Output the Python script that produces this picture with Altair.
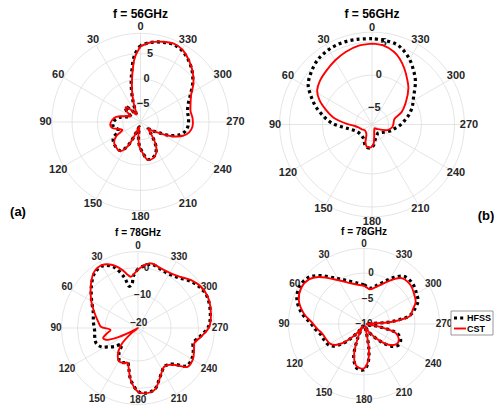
import altair as alt
import pandas as pd

# ---------------- data ----------------
series_names = ["HFSS", "CST"]
theta_ticks = [0, 30, 60, 90, 120, 150, 180, 210, 240, 270, 300, 330]
panel_titles = ["f = 56GHz", "f = 56GHz", "f = 78GHz", "f = 78GHz"]
panel_tags = ["(a)", "(b)"]

# panel 1 : top-left, 56 GHz
p1_angles = [0, 5, 10, 15, 20, 25, 30, 38, 45, 52, 60, 68, 78, 86, 95, 102, 108, 114, 120, 128,
             135, 145, 152, 158, 165, 172, 178, 183, 190, 195, 204, 210, 215, 222, 228, 234, 240,
             246, 252, 258, 265, 274, 282, 290, 298, 306, 314, 322, 330, 337, 345, 353]
p1_cst = [6.4, 4.3, 0.9, -2.0, -4.6, -6.5, -6.8, -5.5, -4.4, -5.0, -6.3, -5.5, -3.6, -2.9, -2.5,
          -2.8, -4.0, -4.6, -3.0, -1.9, -1.6, -1.5, -3.0, -6.2, -7.5, -5.5, -3.5, -2.6, -1.0, -0.8,
          -1.3, -2.2, -3.4, -5.5, -6.5, -5.5, -4.0, -1.6, 0.3, 1.3, 1.8, 1.8, 1.6, 2.0, 2.8, 4.4,
          5.8, 7.0, 8.0, 8.3, 7.9, 7.3]
p1_hfss = [6.6, 4.8, 1.5, -1.5, -4.2, -6.2, -6.8, -5.3, -4.3, -5.0, -6.3, -5.8, -4.2, -3.4, -3.0,
           -3.2, -3.8, -3.6, -2.3, -1.8, -1.6, -1.6, -3.2, -6.3, -7.5, -5.6, -3.6, -2.7, -1.1, -0.9,
           -1.4, -2.3, -3.5, -5.5, -6.5, -5.6, -4.2, -1.9, -0.4, 0.5, 0.9, 1.0, 1.0, 1.5, 2.6, 4.2,
           5.7, 6.9, 7.8, 8.1, 7.8, 7.3]
p1_rticks = [-5, 0, 5]

# panel 2 : top-right, 56 GHz
p2_angles = [0, 10, 20, 30, 40, 50, 58, 65, 72, 80, 88, 95, 102, 115, 130, 150, 160, 166, 172,
             179, 185, 190, 200, 215, 230, 250, 260, 268, 276, 284, 293, 303, 315, 323, 330, 337,
             343, 352]
p2_cst = [4.75, 4.6, 4.2, 3.7, 3.2, 2.8, 2.3, 1.3, -0.1, -1.6, -3.6, -4.9, -5.4, -5.8, -6.1, -5.8,
          -4.6, -4.1, -4.0, -4.1, -4.6, -5.6, -6.5, -6.8, -6.4, -5.0, -4.5, -4.3, -4.2, -4.0, -2.6,
          -1.4, 0.3, 1.3, 2.3, 3.3, 4.0, 4.6]
p2_hfss = [5.5, 5.6, 5.7, 5.6, 5.3, 4.6, 3.9, 2.7, 1.5, 0.0, -1.4, -3.0, -4.1, -5.0, -5.2, -5.0,
           -4.3, -4.0, -3.9, -4.0, -4.4, -5.0, -5.6, -5.9, -5.6, -4.6, -4.0, -3.3, -2.6, -1.8, -0.9,
           0.0, 1.8, 2.9, 3.9, 4.7, 5.2, 5.4]
p2_rticks = [-5, 0, 5]

# panel 3 : bottom-left, 78 GHz
p3_angles = [0, 5, 8, 12, 15, 22, 30, 38, 47, 59, 71, 82, 88, 94, 100, 106, 110, 114, 118, 122,
             128, 135, 143, 151, 158, 163, 167, 172, 180, 186, 195, 202, 209, 214, 220, 225, 232,
             240, 248, 255, 262, 271, 281, 294, 303, 312, 320, 326, 333, 340, 348, 354]
p3_cst = [-0.8, -2.5, -3.2, -1.8, -0.2, 2.7, 4.4, 3.9, 1.4, -2.1, -5.3, -7.5, -8.5, -12.0, -10.5,
          -8.8, -9.5, -13.0, -19.0, -22.0, -19.0, -13.3, -9.8, -8.0, -8.3, -8.8, -7.0, -2.9, 1.2,
          1.9, 1.3, -1.5, -4.0, -5.0, -4.5, -3.0, 0.9, 1.0, 0.0, -0.8, 1.1, 3.9, 5.0, 5.8, 5.4,
          4.0, 2.2, 1.4, 1.1, 1.3, 2.0, 1.0]
p3_hfss = [-0.5, -3.0, -6.0, -6.5, -3.0, 2.0, 4.0, 3.5, 1.1, -2.3, -4.8, -5.6, -6.0, -6.2, -6.0,
           -5.8, -5.8, -6.3, -7.2, -9.0, -11.0, -13.5, -10.5, -8.2, -8.4, -9.0, -7.0, -3.0, 1.0,
           1.8, 1.2, -1.6, -4.0, -5.0, -4.7, -3.4, 0.4, 0.6, -0.3, -1.2, 0.7, 3.6, 4.8, 5.6, 5.0,
           3.5, 1.7, 0.9, 0.6, 1.0, 1.7, 0.8]
p3_rticks = [-20, -10, 0]

# panel 4 : bottom-right, 78 GHz
p4_angles = [0, 7, 18, 30, 44, 51, 60, 70, 80, 89, 96, 103, 112, 120, 126, 132, 138, 145, 150,
             156, 163, 171, 180, 186, 191, 196, 202, 212, 225, 233, 240, 247, 254, 260, 265, 270,
             274, 277, 280, 286, 293, 300, 310, 320, 327, 335, 343, 351, 356]
p4_cst = [-2.5, -2.3, -1.6, -0.1, 2.8, 3.9, 4.2, 3.6, 2.0, 0.1, -0.8, -1.6, -2.0, -2.3, -3.0,
          -4.5, -6.5, -8.5, -9.5, -7.0, -3.3, -1.5, -1.3, -2.6, -5.0, -8.5, -9.5, -8.0, -5.0,
          -3.1, -2.4, -2.6, -3.5, -7.0, -9.5, -9.5, -5.0, -2.5, -0.8, -0.1, 1.0, 1.4, 1.9, 1.7,
          0.4, -1.3, -2.5, -3.1, -2.8]
p4_hfss = [-2.3, -2.0, -1.2, 0.3, 3.2, 4.3, 4.6, 4.0, 2.4, 0.5, -0.4, -1.2, -1.6, -1.9, -2.6,
           -4.2, -6.3, -8.5, -9.5, -7.0, -3.1, -1.2, -1.0, -2.4, -5.0, -8.5, -9.5, -8.0, -4.8,
           -2.7, -2.0, -2.2, -3.2, -7.0, -9.5, -9.5, -5.5, -3.0, -1.0, 0.3, 1.5, 1.9, 2.4, 2.2,
           0.9, -0.9, -2.2, -2.9, -2.6]
p4_rticks = [-10, -5, 0]

# ---------------- layout / style ----------------
W, H = 486, 397
X0, Y0 = 8, 8
panels = [
    dict(angles=p1_angles, hfss=p1_hfss, cst=p1_cst, rticks=p1_rticks, title=panel_titles[0],
         cx=140.5, cy=122, ppd=5.07, rmin=-8.5, rmax=9.0, lab_r=95, tfs=11, ttfs=12, ty=14),
    dict(angles=p2_angles, hfss=p2_hfss, cst=p2_cst, rticks=p2_rticks, title=panel_titles[1],
         cx=372, cy=124.5, ppd=6.6, rmin=-7.5, rmax=6.5, lab_r=97, tfs=11, ttfs=12, ty=14),
    dict(angles=p3_angles, hfss=p3_hfss, cst=p3_cst, rticks=p3_rticks, title=panel_titles[2],
         cx=138, cy=328, ppd=2.75, rmin=-22, rmax=5.8, lab_r=82, tfs=10, ttfs=10, ty=233),
    dict(angles=p4_angles, hfss=p4_hfss, cst=p4_cst, rticks=p4_rticks, title=panel_titles[3],
         cx=364, cy=324, ppd=5.1, rmin=-10, rmax=4.8, lab_r=80, tfs=10, ttfs=10, ty=232),
]
tag_pos = [(18, 212), (486, 216)]
FONT = "Liberation Sans"
GRID = "#dedede"
TXT = "#262626"
YMAX_TXT = 400  # keep bottom labels inside the drawing

xs = alt.Scale(domain=[X0, X0 + W], nice=False, zero=False)
ys = alt.Scale(domain=[Y0 + H, Y0], nice=False, zero=False)


def XY(xf="x", yf="y"):
    return dict(x=alt.X(f"{xf}:Q", scale=xs, axis=None),
                y=alt.Y(f"{yf}:Q", scale=ys, axis=None))


def polar_calc(ch, p, rexpr, ang="datum.angle", xn="x", yn="y", ymax=None):
    yexpr = f"{p['cy']} - ({rexpr}) * cos({ang} * PI / 180)"
    if ymax is not None:
        yexpr = f"min({ymax}, {yexpr})"
    return ch.transform_calculate(
        **{xn: f"{p['cx']} - ({rexpr}) * sin({ang} * PI / 180)", yn: yexpr})


layers = []
for p in panels:
    R = (p["rmax"] - p["rmin"]) * p["ppd"]
    # grid rings
    ring_df = pd.DataFrame({"v": p["rticks"] + [p["rmax"]]})
    rings = (alt.Chart(ring_df)
             .transform_calculate(rp=f"(datum.v - {p['rmin']}) * {p['ppd']}",
                                  x=f"{p['cx']}", y=f"{p['cy']}")
             .transform_calculate(sz="4 * datum.rp * datum.rp")
             .transform_filter("datum.rp > 0.5")
             .mark_point(shape="circle", filled=False, stroke=GRID, strokeWidth=0.8, opacity=1)
             .encode(**XY(), size=alt.Size("sz:Q", scale=None)))
    layers.append(rings)
    # spokes
    sp_df = pd.DataFrame({"angle": theta_ticks})
    spokes = polar_calc(alt.Chart(sp_df).transform_calculate(x0=f"{p['cx']}", y0=f"{p['cy']}"),
                        p, f"{R}", xn="x2", yn="y2")
    spokes = spokes.mark_rule(stroke=GRID, strokeWidth=0.8).encode(
        x=alt.X("x0:Q", scale=xs, axis=None), y=alt.Y("y0:Q", scale=ys, axis=None),
        x2="x2:Q", y2="y2:Q")
    layers.append(spokes)
    # radial tick labels
    rl_df = pd.DataFrame({"v": p["rticks"], "angle": [352] * len(p["rticks"])})
    rl = polar_calc(alt.Chart(rl_df).transform_calculate(lbl="format(datum.v, 'd')"), p,
                    f"(datum.v - {p['rmin']}) * {p['ppd']}")
    rl = rl.mark_text(font=FONT, fontWeight="bold", fontSize=p["tfs"], color=TXT,
                      align="center", baseline="middle").encode(**XY(), text="lbl:N")
    layers.append(rl)
    # angle labels
    al_df = pd.DataFrame({"angle": theta_ticks, "lbl": [str(a) for a in theta_ticks]})
    al = polar_calc(alt.Chart(al_df), p, f"{p['lab_r']}", ymax=YMAX_TXT)
    al = al.mark_text(font=FONT, fontWeight="bold", fontSize=p["tfs"], color=TXT,
                      align="center", baseline="middle").encode(**XY(), text="lbl:N")
    layers.append(al)
    # title
    t_df = pd.DataFrame({"t": [p["title"]], "x": [p["cx"]], "y": [p["ty"]]})
    layers.append(alt.Chart(t_df).mark_text(font=FONT, fontWeight="bold", fontSize=p["ttfs"],
                                             color="#000", align="center", baseline="middle")
                  .encode(**XY(), text="t:N"))
    # curves
    for name, vals, style in [
        ("HFSS", p["hfss"], dict(color="#000000", strokeWidth=3.2, strokeDash=[3, 3.2],
                                 strokeCap="butt")),
        ("CST", p["cst"], dict(color="#ff0000", strokeWidth=1.9)),
    ]:
        ang = list(p["angles"]) + [p["angles"][0] + 360]
        g = list(vals) + [vals[0]]
        df = pd.DataFrame({"angle": ang, "gain": g, "idx": range(len(ang)), "series": name})
        ln = polar_calc(alt.Chart(df), p, f"max(datum.gain - {p['rmin']}, 0) * {p['ppd']}")
        ln = ln.mark_line(interpolate="catmull-rom", **style).encode(
            **XY(), order=alt.Order("idx:Q"))
        layers.append(ln)

# (a) / (b) tags
tag_df = pd.DataFrame({"t": panel_tags, "x": [q[0] for q in tag_pos], "y": [q[1] for q in tag_pos]})
layers.append(alt.Chart(tag_df).mark_text(font=FONT, fontWeight="bold", fontSize=13, color="#000",
                                          align="center", baseline="middle")
              .encode(**XY(), text="t:N"))

# legend (box + entries)
LX, LY, LW = 451, 311, 42  # legend box top-left (page coords) and width
box_df = pd.DataFrame({"x": [LX], "y": [LY], "x2": [LX + LW], "y2": [LY + 24]})
layers.append(alt.Chart(box_df).mark_rect(fill="white", stroke="#7f7f7f", strokeWidth=0.8)
              .encode(**XY(), x2="x2:Q", y2="y2:Q"))
leg_df = pd.DataFrame({"series": series_names, "row": [0, 1]})
leg_base = alt.Chart(leg_df).transform_calculate(
    y=f"{LY + 7} + datum.row * 10.5", xa=f"{LX + 3}", xb=f"{LX + 15}", xt=f"{LX + 16}")
layers.append(leg_base.transform_filter("datum.row == 0")
              .mark_rule(color="#000", strokeWidth=3.2, strokeDash=[3, 3.2], strokeCap="butt")
              .encode(x=alt.X("xa:Q", scale=xs, axis=None), y=alt.Y("y:Q", scale=ys, axis=None),
                      x2="xb:Q"))
layers.append(leg_base.transform_filter("datum.row == 1")
              .mark_rule(color="#ff0000", strokeWidth=1.9)
              .encode(x=alt.X("xa:Q", scale=xs, axis=None), y=alt.Y("y:Q", scale=ys, axis=None),
                      x2="xb:Q"))
layers.append(leg_base.mark_text(font=FONT, fontWeight="bold", fontSize=9, color="#000",
                                 align="left", baseline="middle")
              .encode(x=alt.X("xt:Q", scale=xs, axis=None), y=alt.Y("y:Q", scale=ys, axis=None),
                      text="series:N"))

chart = (alt.layer(*layers)
         .properties(width=W, height=H, padding=0,
                     autosize=alt.AutoSizeParams(type="none"))
         .configure_view(stroke=None))

chart.save("out.html", embed_options={"renderer": "svg", "actions": False})
